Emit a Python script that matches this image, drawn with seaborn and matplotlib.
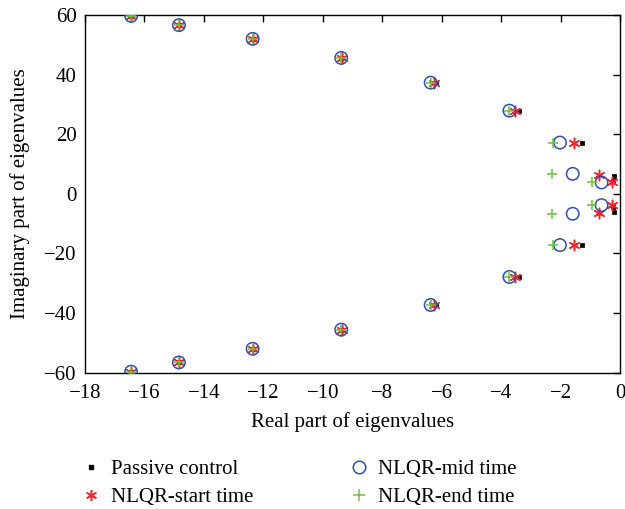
import matplotlib
matplotlib.use("Agg")
import matplotlib.pyplot as plt
from matplotlib.lines import Line2D
import seaborn as sns
import pandas as pd

# Eigenvalue locations (real, imaginary) for each control case; conjugate pairs
passive_re = [-16.45, -14.84, -12.36, -9.35, -6.20, -3.39, -1.27, -0.20, -0.24]
passive_im = [59.7, 56.6, 52.0, 45.6, 37.3, 27.9, 17.2, 6.1, 4.3]

start_re = [-16.45, -14.84, -12.36, -9.36, -6.25, -3.53, -1.55, -0.72, -0.26]
start_im = [59.7, 56.6, 52.0, 45.6, 37.3, 27.9, 17.2, 6.4, 3.9]

mid_re = [-16.45, -14.84, -12.36, -9.38, -6.37, -3.72, -2.02, -1.59, -0.62]
mid_im = [59.7, 56.6, 52.0, 45.6, 37.3, 27.9, 17.2, 6.7, 3.8]

end_re = [-16.45, -14.84, -12.36, -9.38, -6.37, -3.72, -2.26, -2.29, -0.95]
end_im = [59.7, 56.6, 52.0, 45.6, 37.3, 27.9, 17.2, 6.7, 3.8]

labels = ["Passive control", "NLQR-start time", "NLQR-mid time", "NLQR-end time"]
x_ticks = [-18, -16, -14, -12, -10, -8, -6, -4, -2, 0]
y_ticks = [-60, -40, -20, 0, 20, 40, 60]


def conj_frame(re, im):
    return pd.DataFrame({"re": re + re, "im": im + [-v for v in im]})


sns.set_theme(style="white")
plt.rcParams["font.family"] = ["Liberation Serif", "DejaVu Serif"]
plt.rcParams["text.color"] = "black"
plt.rcParams["axes.labelcolor"] = "black"
plt.rcParams["xtick.color"] = "black"
plt.rcParams["ytick.color"] = "black"

fig = plt.figure(figsize=(6.25, 5.09), dpi=100)
ax = fig.add_axes([0.136, 0.268, 0.856, 0.7025])

black = "#000000"
red = "#f0262a"
blue = "#3050a8"
green = "#6cc040"
star = (6, 2, 0)

df_p = conj_frame(passive_re, passive_im)
df_s = conj_frame(start_re, start_im)
df_m = conj_frame(mid_re, mid_im)
df_e = conj_frame(end_re, end_im)

sns.scatterplot(data=df_p, x="re", y="im", ax=ax, marker="s", s=12,
                color=black, edgecolor=black, linewidth=0.5, zorder=3)
sns.scatterplot(data=df_s, x="re", y="im", ax=ax, marker=star, s=55,
                color=red, linewidth=1.1, zorder=4)
sns.scatterplot(data=df_m, x="re", y="im", ax=ax, marker="o", s=80,
                facecolor="none", edgecolor=blue, linewidth=1.1, zorder=5)
sns.scatterplot(data=df_e, x="re", y="im", ax=ax, marker="+", s=60,
                color=green, linewidth=1.1, zorder=6)

ax.set_xlim(-18, 0)
ax.set_ylim(-60, 60)
ax.set_xticks(x_ticks)
ax.set_yticks(y_ticks)
ax.set_xticklabels([("\u2212" + str(-t)) if t < 0 else str(t) for t in x_ticks])
ax.set_yticklabels([("\u2212" + str(-t)) if t < 0 else str(t) for t in y_ticks])
ax.tick_params(direction="in", length=5, width=1, top=True, right=True,
               labelsize=15, colors=black)
ax.tick_params(axis="x", pad=8)
ax.tick_params(axis="y", pad=6)
for sp in ax.spines.values():
    sp.set_visible(True)
    sp.set_color(black)
    sp.set_linewidth(1.0)
ax.set_xlabel("Real part of eigenvalues", fontsize=15, labelpad=7)
ax.set_ylabel("Imaginary part of eigenvalues", fontsize=15, labelpad=10)

handles = [
    Line2D([], [], linestyle="none", marker="s", markersize=3.2, color=black),
    Line2D([], [], linestyle="none", marker=star, markersize=8, color=red, markeredgewidth=1.1),
    Line2D([], [], linestyle="none", marker="o", markersize=9, markerfacecolor="none",
           markeredgecolor=blue, markeredgewidth=1.1),
    Line2D([], [], linestyle="none", marker="+", markersize=9, color=green, markeredgewidth=1.1),
]
fig.legend(handles, labels, loc="upper left", bbox_to_anchor=(0.116, 0.113), ncol=2,
           frameon=False, fontsize=15, handlelength=1.0, handletextpad=0.45,
           columnspacing=4.55, labelspacing=0.4, borderaxespad=0)

fig.savefig("out.png", dpi=100)
